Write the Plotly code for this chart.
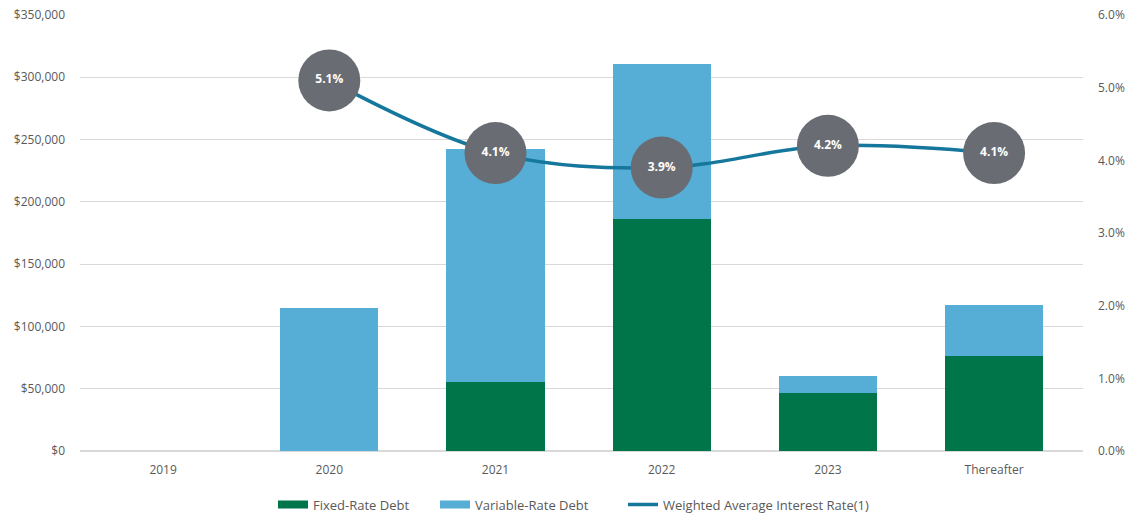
import plotly.graph_objects as go

categories = ["2019", "2020", "2021", "2022", "2023", "Thereafter"]
fixed_rate = [0, 0, 55000, 186000, 46500, 76500]
variable_rate = [0, 115000, 187500, 124500, 13500, 41000]
rate_cats = ["2020", "2021", "2022", "2023", "Thereafter"]
rates = [0.051, 0.041, 0.039, 0.042, 0.041]
rate_labels = ["5.1%", "4.1%", "3.9%", "4.2%", "4.1%"]

FONT = "Open Sans"
GRAY = "#595959"
FIXED_C = "#00754A"
VAR_C = "#56AED6"
LINE_C = "#16779C"

fig = go.Figure()
fig.add_trace(go.Bar(x=categories, y=fixed_rate, name="Fixed-Rate Debt",
                     marker=dict(color=FIXED_C, line=dict(width=0)),
                     showlegend=False, hoverinfo="skip"))
fig.add_trace(go.Bar(x=categories, y=variable_rate, name="Variable-Rate Debt",
                     marker=dict(color=VAR_C, line=dict(width=0)),
                     showlegend=False, hoverinfo="skip"))
# legend entries (wide rectangles like the reference)
fig.add_trace(go.Scatter(x=[None], y=[None], mode="lines", name="Fixed-Rate Debt",
                         line=dict(color=FIXED_C, width=8), legend="legend"))
fig.add_trace(go.Scatter(x=[None], y=[None], mode="lines", name="Variable-Rate Debt",
                         line=dict(color=VAR_C, width=8), legend="legend2"))
fig.add_trace(go.Scatter(x=rate_cats, y=rates, yaxis="y2", mode="lines",
                         name="Weighted Average Interest Rate(1)", legend="legend3",
                         line=dict(color=LINE_C, width=3.5, shape="spline", smoothing=1.0)))
fig.add_trace(go.Scatter(x=rate_cats, y=rates, yaxis="y2", mode="markers+text",
                         showlegend=False, text=rate_labels, textposition="middle center",
                         textfont=dict(color="white", size=12, family=FONT, weight="bold"),
                         marker=dict(size=62, color="#696D73", line=dict(width=0))))

def leg(xpix):
    return dict(orientation="h", x=xpix / 1138, xref="container", xanchor="left",
                y=0.022, yref="container", yanchor="middle",
                font=dict(size=13, color=GRAY), bgcolor="rgba(0,0,0,0)")

fig.update_layout(
    width=1138, height=516,
    barmode="stack", bargap=0.41,
    paper_bgcolor="white", plot_bgcolor="white",
    margin=dict(l=80, r=55, t=15, b=65),
    font=dict(family=FONT, size=12, color=GRAY),
    xaxis=dict(type="category", categoryorder="array", categoryarray=categories,
               showgrid=False, showline=False, ticks="", ticklabelstandoff=10,
               automargin=False, tickfont=dict(size=12, color=GRAY)),
    yaxis=dict(range=[0, 350000], dtick=50000, tickformat="$,.0f", showgrid=True,
               gridcolor="#D9D9D9", gridwidth=1, zeroline=True, zerolinecolor="#D9D9D9",
               ticks="", ticklabelstandoff=14, automargin=False,
               tickfont=dict(size=12, color=GRAY)),
    yaxis2=dict(range=[0, 0.06], dtick=0.01, tickformat=".1%", overlaying="y", side="right",
                showgrid=False, zeroline=False, ticks="", ticklabelstandoff=14,
                automargin=False, tickfont=dict(size=12, color=GRAY)),
    legend=leg(273),
    legend2=leg(435),
    legend3=leg(623),
    showlegend=True,
)

fig.write_html("out.html")
